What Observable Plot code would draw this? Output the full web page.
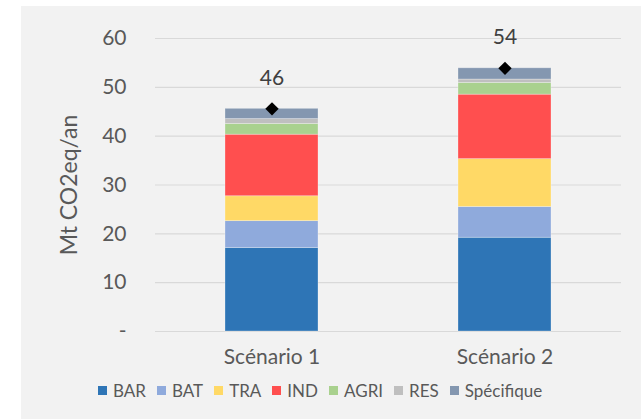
<!DOCTYPE html>
<html><head><meta charset="utf-8">
<script src="https://cdn.jsdelivr.net/npm/d3@7"></script>
<script src="https://cdn.jsdelivr.net/npm/@observablehq/plot@0.6"></script>
<style>
html,body{margin:0;padding:0;background:#fff;width:641px;height:419px;overflow:hidden;font-family:Lato,sans-serif}
#box{position:absolute;left:21px;top:6px;width:620px;height:413px;background:#f2f2f2}
#chart{position:absolute;left:0;top:0}
#ylabel{position:absolute;left:47px;top:179px;transform:translate(-50%,-50%) rotate(-90deg);white-space:nowrap;font-size:23px;color:#595959}
#legend{position:absolute;left:77px;top:374px;display:flex;align-items:center;font-size:17px;color:#595959}
.item{display:flex;align-items:center;margin-right:11px}
.sw{width:9px;height:9px;margin-right:6px}
</style>
</head><body>
<div id="box"><div id="chart"></div><div id="ylabel"></div><div id="legend"></div></div>
<script>
const scenarios = ["Scénario 1", "Scénario 2"];
const sectors = ["BAR", "BAT", "TRA", "IND", "AGRI", "RES", "Spécifique"];
const sectorColors = ["#2e75b6", "#8faadc", "#ffd966", "#ff4f4f", "#a9d18e", "#bfbfbf", "#8497b0"];
const scenario1 = [17.1, 5.5, 5.1, 12.6, 2.2, 1.0, 2.1];
const scenario2 = [19.2, 6.3, 9.8, 13.2, 2.4, 0.7, 2.3];
const yTicks = [0, 10, 20, 30, 40, 50, 60];
const yTitle = "Mt CO2eq/an";

const series = [scenario1, scenario2];
const rows = [];
scenarios.forEach((s, i) => sectors.forEach((k, j) => rows.push({scenario: s, sector: k, value: series[i][j]})));
const totals = scenarios.map((s, i) => ({scenario: s, total: d3.sum(series[i])}));

const plot = Plot.plot({
  width: 620, height: 370,
  marginLeft: 134, marginRight: 20, marginTop: 32, marginBottom: 45,
  style: {background: "transparent", color: "#595959", fontFamily: "Lato, sans-serif", fontSize: "21px"},
  x: {domain: scenarios, paddingInner: 0.6, paddingOuter: 0.3, label: null},
  y: {domain: [0, 60], label: null},
  color: {domain: sectors, range: sectorColors},
  marks: [
    Plot.gridY(yTicks, {stroke: "#d9d9d9", strokeOpacity: 1, strokeWidth: 1.2}),
    Plot.axisY(yTicks, {tickSize: 0, tickPadding: 29, tickFormat: d => d === 0 ? "-" : String(d), label: null, fontSize: 21}),
    Plot.axisX({tickSize: 0, tickPadding: 18, label: null, fontSize: 21}),
    Plot.barY(rows, {x: "scenario", y: "value", fill: "sector", stroke: "#ffffff", strokeOpacity: 0.35, strokeWidth: 0.8}),
    Plot.dot(totals, {x: "scenario", y: "total", symbol: "diamond2", r: 6, fill: "#000"}),
    Plot.text(totals, {x: "scenario", y: "total", text: d => String(Math.round(d.total)), dy: -31, fontSize: 21, fill: "#404040"})
  ]
});
document.getElementById("chart").appendChild(plot);
document.getElementById("ylabel").textContent = yTitle;
const lg = document.getElementById("legend");
sectors.forEach((k, j) => {
  const it = document.createElement("div"); it.className = "item";
  const sw = document.createElement("div"); sw.className = "sw"; sw.style.background = sectorColors[j];
  const t = document.createElement("span"); t.textContent = k;
  it.appendChild(sw); it.appendChild(t); lg.appendChild(it);
});
</script>
</body></html>
